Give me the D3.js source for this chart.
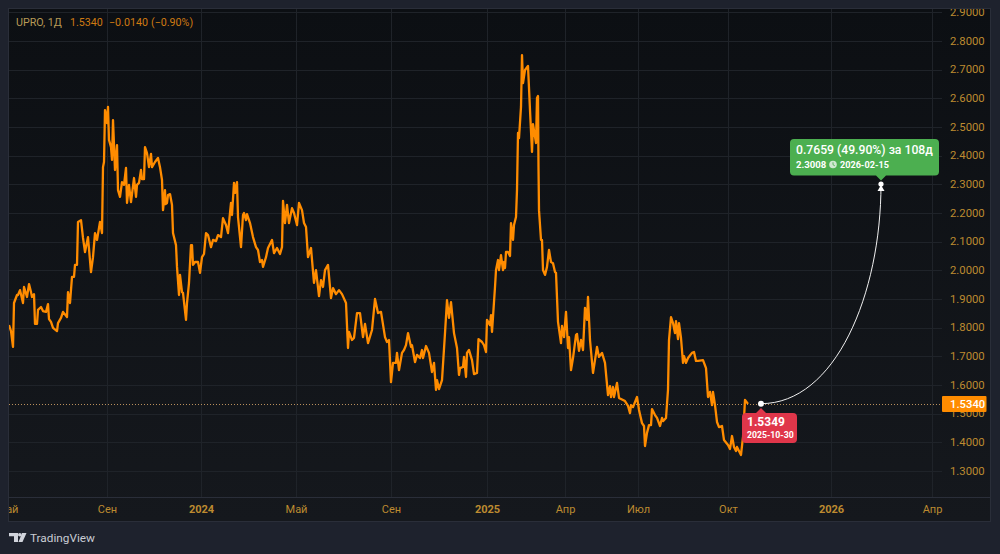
<!DOCTYPE html>
<html>
<head>
<meta charset="utf-8">
<script src="https://cdnjs.cloudflare.com/ajax/libs/d3/7.8.5/d3.min.js"></script>
<style>
  html, body { margin: 0; padding: 0; background: #1e222d; }
  svg { display: block; }
  text { font-family: Roboto, "Noto Sans", sans-serif; }
</style>
</head>
<body>
<svg id="chart" width="1000" height="554"></svg>
<script>
// Session number of every close on the UPRO daily line
const bars = [
  0,2,4,5,8,9,11,14,15,18,
  20,22,23,25,26,28,29,32,34,37,
  39,40,42,44,48,49,52,54,58,59,
  61,63,65,66,68,69,72,74,76,79,
  82,84,86,88,91,93,94,95,96,97,
  98,99,100,102,103,104,106,108,109,111,
  113,115,117,118,120,122,125,127,128,130,
  132,133,135,136,138,140,142,143,146,149,
  151,153,154,156,156.5,158,159,161,163,164,
  167,168,170,171,173,174,177,178,180,182,
  183,184,186,189,191,193,195,197,199,202,
  204,207,209,212,214,217,219,222,223,225,
  226,228,229,232,234,235,237,238,241,244,
  247,249,251,253,254,257,259,263,265,268,
  271,273,274,276,278,280,283,285,288,290,
  293,295,297,299,302,305,307,310,312,314,
  316,319,322,324,327,330,333,337,339,340,
  343,345,348,351,354,356,359,363,366,369,
  372,376,378,380,382,384,387,388,390,393,
  395,397,399,402,403,406,408,411,413,414,
  417,420,423,425,427,428,430,433,436,438,
  440,442,445,448,450,451,454,455,457,458,
  460,463,465,468,469.5,473,475,477,478,481,
  482,483,486,487,489,490,492,494,495,496,
  497,499,501,502,504,505,507,508,509,510,
  512,513,514,516,519,521,523,524,527,528,
  529,529.5,530,532,533,534,536,538,540,542,
  544,546,547,549,552,553,555,557,559,560,
  562,564,567,568,570,572,574,576,578,579,
  581,584,586,588,590,593,596,599,601,602,
  604,605,608,610,616,619,621,622,624,628,
  630,633,635,636,638,640,642,643,646,648,
  651,653,654,657,659,660,662,664,666,667,
  669,670,672,674,675,677,679,683,685,687,
  689,694,697,699,701,703,704,706,708,710,
  713,715,719,721,723,725,727,728,730,732,
  734,736,739
];
const closes = [
  1.809,1.788,1.733,1.886,1.914,1.914,1.931,1.886,1.942,1.907,
  1.952,1.924,1.907,1.917,1.813,1.813,1.862,1.872,1.858,1.855,
  1.882,1.830,1.820,1.799,1.788,1.816,1.834,1.855,1.837,1.924,
  1.886,1.977,1.977,2.019,2.019,2.169,2.175,2.113,2.064,2.116,
  1.994,2.046,2.130,2.106,2.169,2.130,2.360,2.378,2.559,2.542,
  2.514,2.570,2.455,2.430,2.385,2.524,2.350,2.437,2.280,2.256,
  2.308,2.298,2.357,2.235,2.298,2.238,2.322,2.256,2.298,2.305,
  2.350,2.318,2.318,2.430,2.409,2.360,2.406,2.360,2.378,2.392,
  2.360,2.315,2.210,2.280,2.231,2.235,2.263,2.266,2.228,2.130,
  2.088,2.012,1.914,1.984,1.924,1.921,1.827,1.886,1.956,2.088,
  2.088,2.019,2.029,2.029,1.991,2.046,2.057,2.130,2.123,2.081,
  2.106,2.102,2.123,2.116,2.182,2.158,2.130,2.235,2.193,2.305,
  2.270,2.308,2.186,2.081,2.193,2.200,2.175,2.196,2.165,2.116,
  2.081,2.071,2.029,2.036,2.012,2.046,2.078,2.106,2.060,2.078,
  2.057,2.081,2.242,2.165,2.228,2.165,2.217,2.200,2.158,2.235,
  2.210,2.165,2.151,2.046,2.078,1.956,2.001,1.910,1.966,1.942,
  2.001,2.019,1.903,1.938,1.917,1.931,1.917,1.886,1.729,1.785,
  1.757,1.764,1.851,1.851,1.767,1.813,1.746,1.792,1.900,1.851,
  1.855,1.767,1.750,1.757,1.610,1.677,1.677,1.712,1.652,1.712,
  1.722,1.739,1.781,1.733,1.739,1.680,1.705,1.694,1.722,1.694,
  1.736,1.712,1.645,1.677,1.583,1.617,1.586,1.617,1.781,1.896,
  1.834,1.889,1.781,1.729,1.635,1.659,1.663,1.698,1.628,1.712,
  1.722,1.687,1.638,1.642,1.760,1.750,1.739,1.715,1.827,1.809,
  1.844,1.785,1.942,2.001,2.036,2.001,2.053,2.001,2.029,2.008,
  2.064,2.064,2.050,2.165,2.106,2.158,2.186,2.280,2.479,2.461,
  2.570,2.751,2.653,2.699,2.713,2.559,2.413,2.510,2.444,2.601,
  2.608,2.360,2.210,2.106,2.106,2.001,1.984,2.012,2.071,2.029,
  2.025,1.994,1.991,1.820,1.746,1.806,1.767,1.855,1.729,1.767,
  1.652,1.694,1.774,1.778,1.719,1.757,1.722,1.869,1.827,1.907,
  1.757,1.642,1.687,1.733,1.698,1.712,1.677,1.565,1.596,1.558,
  1.593,1.558,1.607,1.555,1.544,1.527,1.502,1.530,1.523,1.558,
  1.513,1.467,1.457,1.387,1.433,1.460,1.460,1.516,1.495,1.485,
  1.457,1.485,1.474,1.485,1.583,1.757,1.837,1.816,1.781,1.823,
  1.760,1.816,1.764,1.677,1.701,1.677,1.694,1.712,1.715,1.684,
  1.684,1.687,1.659,1.558,1.576,1.530,1.576,1.530,1.471,1.453,
  1.457,1.408,1.391,1.377,1.422,1.384,1.370,1.384,1.370,1.356,
  1.419,1.548,1.534
];

// Time axis labels and the sessions they sit on
const timeTickBars = [-2, 98, 192, 287, 382, 478, 556, 629, 719, 822, 923];
const timeTickLabels = ["Май", "Сен", "2024", "Май", "Сен", "2025", "Апр", "Июл", "Окт", "2026", "Апр"];
const yearLabels = ["2024", "2025", "2026"];

// Price axis
const priceTicks = [1.3, 1.4, 1.5, 1.6, 1.7, 1.8, 1.9, 2.0, 2.1, 2.2, 2.3, 2.4, 2.5, 2.6, 2.7, 2.8, 2.9];

// Last quote and the date-and-price range drawn on top of the line
const lastClose = 1.5340;
const rangeBars = [752, 872];
const rangePrices = [1.5349, 2.3008];
const legendParts = ["UPRO, 1Д", "1.5340", "−0.0140", "(−0.90%)"];

const plot = { left: 9, right: 942, top: 9, bottom: 497 };
const panel = { right: 990.5, bottom: 521.5 };
const axisColor = "#bd8b30";

const x = d3.scaleLinear().domain([0, 933]).range([plot.left, plot.right]);
const y = d3.scaleLinear().domain([1.3, 2.8]).range([471, 41]);

const svg = d3.select("#chart");
const defs = svg.append("defs");

const bg = defs.append("linearGradient").attr("id", "paneFill")
  .attr("x1", 0).attr("y1", 0).attr("x2", 0).attr("y2", 1);
bg.append("stop").attr("offset", "0%").attr("stop-color", "#0c0f13");
bg.append("stop").attr("offset", "100%").attr("stop-color", "#15181d");

defs.append("clipPath").attr("id", "paneClip").append("rect")
  .attr("x", plot.left).attr("y", plot.top)
  .attr("width", plot.right - plot.left).attr("height", plot.bottom - plot.top);
defs.append("clipPath").attr("id", "timeClip").append("rect")
  .attr("x", plot.left).attr("y", plot.bottom)
  .attr("width", panel.right - plot.left).attr("height", panel.bottom - plot.bottom);
defs.append("clipPath").attr("id", "priceClip").append("rect")
  .attr("x", plot.right).attr("y", plot.top)
  .attr("width", panel.right - plot.right).attr("height", plot.bottom - plot.top);

// Page and chart frame
svg.append("rect").attr("width", 1000).attr("height", 554).attr("fill", "#1e222d");
svg.append("rect")
  .attr("x", plot.left - 0.5).attr("y", plot.top - 0.5)
  .attr("width", panel.right - plot.left + 0.5).attr("height", panel.bottom - plot.top + 0.5)
  .attr("fill", "url(#paneFill)").attr("stroke", "#2a2e39").attr("stroke-width", 1);

// Grid
const grid = svg.append("g").attr("clip-path", "url(#paneClip)")
  .attr("stroke", "#1f2329").attr("stroke-width", 1);
grid.selectAll(".h").data(priceTicks.concat([1.2])).join("line")
  .attr("x1", plot.left).attr("x2", plot.right)
  .attr("y1", d => Math.round(y(d)) + 0.5).attr("y2", d => Math.round(y(d)) + 0.5);
grid.selectAll(".v").data(timeTickBars).join("line")
  .attr("y1", plot.top).attr("y2", plot.bottom)
  .attr("x1", d => Math.round(x(d)) + 0.5).attr("x2", d => Math.round(x(d)) + 0.5);

// Separator between the pane and the time axis
svg.append("line").attr("x1", plot.left).attr("x2", panel.right)
  .attr("y1", plot.bottom + 0.5).attr("y2", plot.bottom + 0.5)
  .attr("stroke", "#2a2e39");

// Price axis
const priceAxis = d3.axisRight(y).tickValues(priceTicks)
  .tickFormat(d3.format(".4f")).tickSize(0).tickPadding(8);
const priceG = svg.append("g")
  .attr("clip-path", "url(#priceClip)")
  .append("g")
  .attr("transform", `translate(${plot.right},-1)`)
  .call(priceAxis);
priceG.select(".domain").remove();
priceG.selectAll("text")
  .attr("fill", axisColor).attr("font-size", 11.3).attr("dy", "0.36em");

// Time axis
const labelByBar = new Map(d3.zip(timeTickBars, timeTickLabels));
const timeAxis = d3.axisBottom(x).tickValues(timeTickBars)
  .tickFormat(d => labelByBar.get(d)).tickSize(0).tickPadding(8);
const timeG = svg.append("g")
  .attr("clip-path", "url(#timeClip)")
  .append("g")
  .attr("transform", `translate(0,${plot.bottom})`)
  .call(timeAxis);
timeG.select(".domain").remove();
timeG.selectAll("text")
  .attr("fill", axisColor).attr("font-size", 11)
  .attr("font-weight", function () { return yearLabels.includes(this.textContent) ? 700 : 400; });

// Last-price dotted line
svg.append("line")
  .attr("x1", plot.left).attr("x2", plot.right)
  .attr("y1", Math.round(y(lastClose)) + 0.5).attr("y2", Math.round(y(lastClose)) + 0.5)
  .attr("stroke", "#b98f5c").attr("stroke-width", 1).attr("stroke-dasharray", "1 2");

// Close line
const line = d3.line().x(d => x(d[0])).y(d => y(d[1]));
svg.append("path")
  .attr("clip-path", "url(#paneClip)")
  .attr("d", line(d3.zip(bars, closes)))
  .attr("fill", "none").attr("stroke", "#ff8c00").attr("stroke-width", 2.3)
  .attr("stroke-linejoin", "round");

// Projected range curve
const sx = x(rangeBars[0]), sy = y(rangePrices[0]);
const ex = x(rangeBars[1]), ey = y(rangePrices[1]);
const curve = d3.path();
curve.moveTo(sx, sy);
curve.bezierCurveTo(sx + (ex - sx) * 0.62, sy, ex, sy - (sy - ey) * 0.5, ex, ey);
svg.append("path").attr("d", curve.toString())
  .attr("fill", "none").attr("stroke", "#f0f0f0").attr("stroke-width", 1);

// Start and end markers of the range
svg.append("circle").attr("cx", sx).attr("cy", sy).attr("r", 3).attr("fill", "#ffffff");
svg.append("circle").attr("cx", ex).attr("cy", ey).attr("r", 2.6).attr("fill", "#ffffff");
svg.append("path")
  .attr("d", d3.line()([[ex, ey + 1], [ex + 3.5, ey + 7], [ex - 3.5, ey + 7]]) + "Z")
  .attr("fill", "#ffffff");

// Callout shaped as a rounded box with a small pointer
function callout(bx, by, bw, bh, px, pointerUp, fill) {
  const r = 4, n = 5;
  const p = d3.path();
  p.moveTo(bx + r, by);
  if (pointerUp) { p.lineTo(px - n, by); p.lineTo(px, by - n); p.lineTo(px + n, by); }
  p.lineTo(bx + bw - r, by);
  p.arcTo(bx + bw, by, bx + bw, by + r, r);
  p.lineTo(bx + bw, by + bh - r);
  p.arcTo(bx + bw, by + bh, bx + bw - r, by + bh, r);
  if (!pointerUp) { p.lineTo(px + n, by + bh); p.lineTo(px, by + bh + n); p.lineTo(px - n, by + bh); }
  p.lineTo(bx + r, by + bh);
  p.arcTo(bx, by + bh, bx, by + bh - r, r);
  p.lineTo(bx, by + r);
  p.arcTo(bx, by, bx + r, by, r);
  p.closePath();
  svg.append("path").attr("d", p.toString()).attr("fill", fill);
}

// Red start-point label
callout(742, 413, 55, 30, sx, true, "#e0364a");
svg.append("text").attr("x", 747).attr("y", 426).attr("fill", "#fff")
  .attr("font-size", 12).attr("font-weight", 700).text(d3.format(".4f")(rangePrices[0]));
svg.append("text").attr("x", 747).attr("y", 437.5).attr("fill", "#fff")
  .attr("font-size", 8.7).attr("font-weight", 700).text("2025-10-30");

// Green end-point label
callout(790, 139, 149, 36.5, ex, false, "#4caf50");
svg.append("text").attr("x", 796).attr("y", 154).attr("fill", "#fff")
  .attr("font-size", 12.2).attr("font-weight", 500).text("0.7659 (49.90%) за 108д");
svg.append("text").attr("x", 796).attr("y", 168).attr("fill", "#fff")
  .attr("font-size", 9.6).attr("font-weight", 700).text(d3.format(".4f")(rangePrices[1]));
svg.append("circle").attr("cx", 833).attr("cy", 164.5).attr("r", 3.8).attr("fill", "#cfe8d0");
svg.append("path").attr("d", "M833 162.3V164.7L834.8 165.8")
  .attr("fill", "none").attr("stroke", "#4caf50").attr("stroke-width", 0.9);
svg.append("text").attr("x", 840).attr("y", 168).attr("fill", "#fff")
  .attr("font-size", 9.1).attr("font-weight", 700).text("2026-02-15");

// Last-price tag on the price axis
svg.append("rect")
  .attr("x", plot.right).attr("y", y(lastClose) - 8)
  .attr("width", 44.5).attr("height", 16)
  .attr("fill", "#ff8c00").attr("rx", 1);
svg.append("text").attr("x", plot.right + 8).attr("y", y(lastClose) + 4)
  .attr("fill", "#fff").attr("font-size", 11.3).attr("font-weight", 500)
  .text(d3.format(".4f")(lastClose));

// Legend row
const legendX = [16, 70, 109, 151];
const legendFill = ["#b89a56", "#cf7a12", "#cf7a12", "#cf7a12"];
svg.append("g").selectAll("text").data(legendParts).join("text")
  .attr("x", (d, i) => legendX[i]).attr("y", 26)
  .attr("fill", (d, i) => legendFill[i]).attr("font-size", 10.7)
  .text(d => d);

// Attribution
const brand = svg.append("g").attr("transform", "translate(9,533)");
brand.append("path").attr("fill", "#d1d4dc")
  .attr("d", "M0 0H9V9H5V3.2H0Z");
brand.append("circle").attr("cx", 10.8).attr("cy", 1.8).attr("r", 1.8).attr("fill", "#d1d4dc");
brand.append("path").attr("fill", "#d1d4dc")
  .attr("d", "M13 0H17.5L13.5 9H9.5Z");
svg.append("text").attr("x", 30).attr("y", 542).attr("fill", "#c9ccd4")
  .attr("font-size", 11.8).attr("font-weight", 400).text("TradingView");
</script>
</body>
</html>
